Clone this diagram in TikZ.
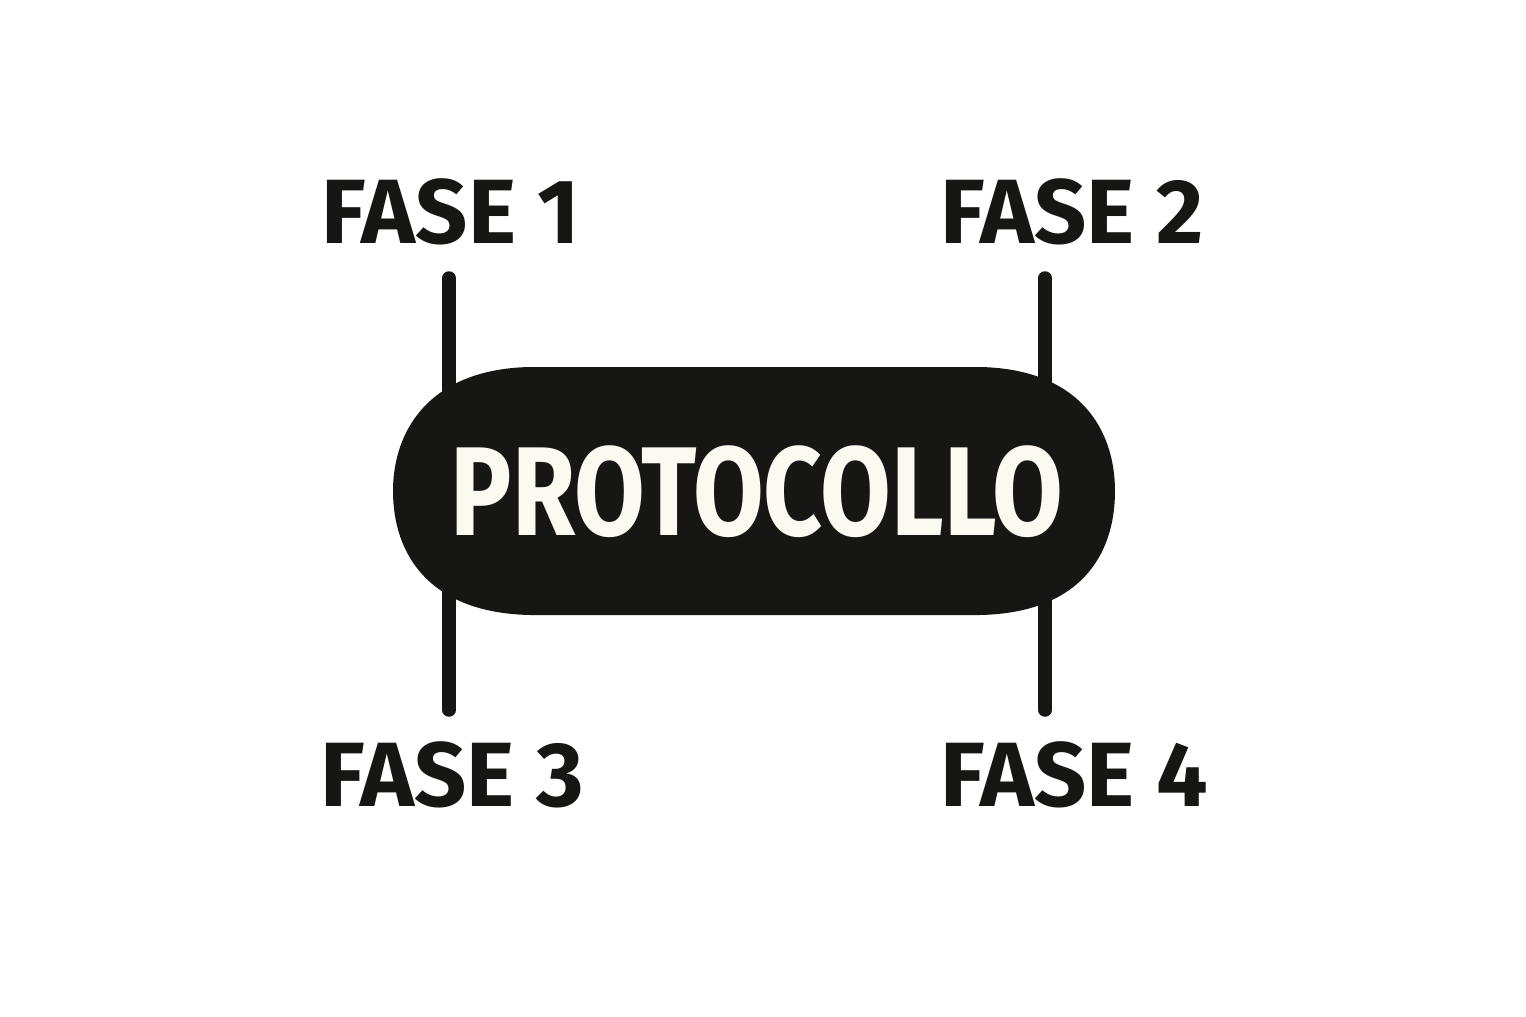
\documentclass[tikz,border=0pt]{standalone}
\usepackage{fontspec}
\setmainfont{Fira Sans}
\usetikzlibrary{positioning}

\definecolor{ink}{RGB}{22,22,20}
\definecolor{paper}{RGB}{252,250,240}

\tikzset{
  phase/.style={font=\bfseries\fontsize{52}{52}\selectfont, text=ink, anchor=base},
  leg/.style={draw=ink, line width=0.27cm, line cap=round}
}

\begin{document}
\begin{tikzpicture}[x=0.02cm, y=-0.02cm]
  \useasboundingbox (0,0) rectangle (1526,1017);
  % legs
  \coordinate (t1) at (449,278);
  \coordinate (j1) at (449,392);
  \coordinate (t2) at (1045,278);
  \coordinate (j2) at (1045,392);
  \coordinate (t3) at (449,710);
  \coordinate (j3) at (449,590);
  \coordinate (t4) at (1045,710);
  \coordinate (j4) at (1045,590);
  \draw [leg] (t1) -- (j1);
  \draw [leg] (t2) -- (j2);
  \draw [leg] (t3) -- (j3);
  \draw [leg] (t4) -- (j4);
  % body
  \fill [ink] (530,367) -- (980,367)
    .. controls (1080,369) and (1115,430) .. (1115,491)
    .. controls (1115,555) and (1080,613) .. (980,615)
    -- (530,615)
    .. controls (430,613) and (393,555) .. (393,491)
    .. controls (393,430) and (430,369) .. (530,367) -- cycle;
  \node (proto) at (757,535) [anchor=base, text=paper,
    font=\bfseries\fontsize{72}{72}\selectfont] {\scalebox{0.81}[1]{PROTOCOLLO}};
  % labels
  \node (fase1) at (451,243) [phase] {FASE 1};
  \node (fase2) at (1072,243) [phase] {FASE 2};
  \node (fase3) at (452,806) [phase] {FASE 3};
  \node (fase4) at (1074,806) [phase] {FASE 4};
\end{tikzpicture}
\end{document}
